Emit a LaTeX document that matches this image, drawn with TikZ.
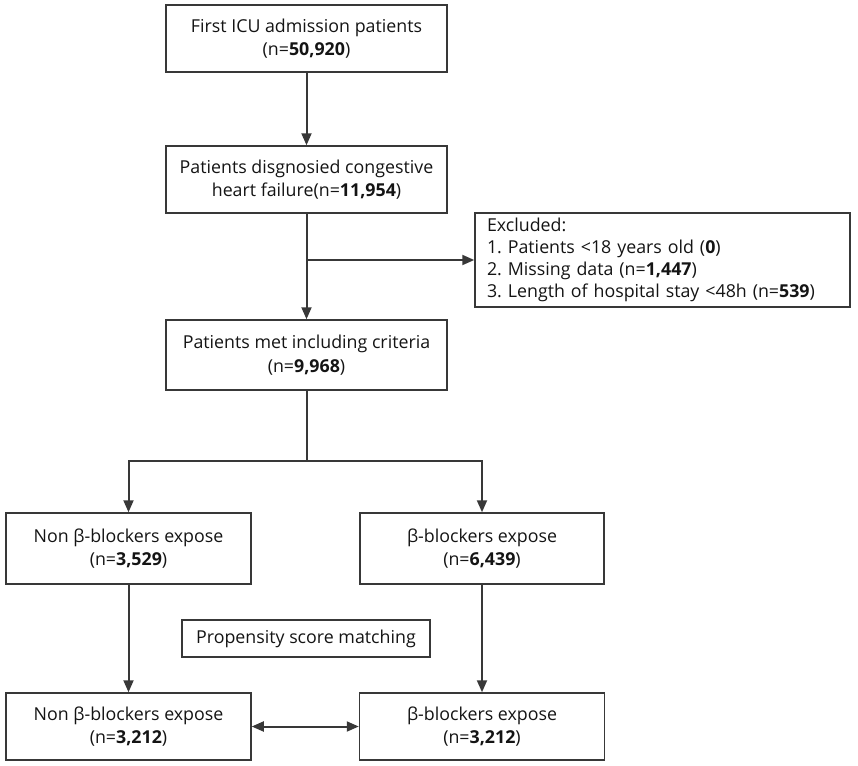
\documentclass[tikz,border=0pt]{standalone}
\usepackage{fontspec}
\setmainfont{Open Sans}
\usetikzlibrary{arrows.meta}
\begin{document}
\frenchspacing
\begin{tikzpicture}[x=1pt,y=-1pt,
  box/.style={draw=black!78,line width=1.5pt,align=center,inner sep=0pt,
    font=\fontsize{17.8}{23.5}\selectfont,text=black!92},
  arr/.style={draw=black!78,line width=2pt,-{Triangle[length=12pt,width=10pt]}},
  ln/.style={draw=black!78,line width=2pt},
  dbl/.style={draw=black!78,line width=2pt,{Triangle[length=12pt,width=10pt]}-{Triangle[length=12pt,width=10pt]}}]
\useasboundingbox (0,0) rectangle (858,765);
\node[box,minimum width=281pt,minimum height=67pt] (b1) at (306.5,38.5) {First ICU admission patients\\(n=\textbf{50,920})};
\node[box,minimum width=281pt,minimum height=67pt] (b2) at (306.5,179.5) {Patients disgnosied congestive\\heart failure(n=\textbf{11,954})};
\node[box,minimum width=375pt,minimum height=94pt,align=left,text width=351pt,inner xsep=12pt,font=\fontsize{17.8}{21.8}\selectfont] (ex) at (662.5,260) {Excluded:\\1. Patients <18 years old (\textbf{0})\\2. Missing data (n=\textbf{1,447})\\3. Length of hospital stay <48h (n=\textbf{539})};
\node[box,minimum width=281pt,minimum height=70pt] (b3) at (306.5,355) {Patients met including criteria\\(n=\textbf{9,968})};
\node[box,minimum width=245pt,minimum height=71pt] (b4) at (128.5,548.5) {Non β-blockers expose\\(n=\textbf{3,529})};
\node[box,minimum width=244pt,minimum height=71pt] (b5) at (482,548.5) {β-blockers expose\\(n=\textbf{6,439})};
\node[box,minimum width=248pt,minimum height=37pt] (ps) at (306,638.5) {Propensity score matching};
\node[box,minimum width=245pt,minimum height=67pt] (b6) at (128.5,726.5) {Non β-blockers expose\\(n=\textbf{3,212})};
\node[box,minimum width=245pt,minimum height=67pt] (b7) at (482,726.5) {β-blockers expose\\(n=\textbf{3,212})};
\coordinate (j1) at (306.5,260);
\coordinate (j2) at (306.5,461);
\draw[arr] (b1) -- (b2);
\draw[arr] (b2) -- (b3);
\draw[arr] (j1) -- (ex.west);
\draw[ln] (b3) -- (j2);
\draw[arr] (j2) -| (b4.north);
\draw[arr] (j2) -| (b5.north);
\draw[arr] (b4) -- (b6);
\draw[arr] (b5) -- (b7);
\draw[dbl] (b6) -- (b7);
\end{tikzpicture}
\end{document}
